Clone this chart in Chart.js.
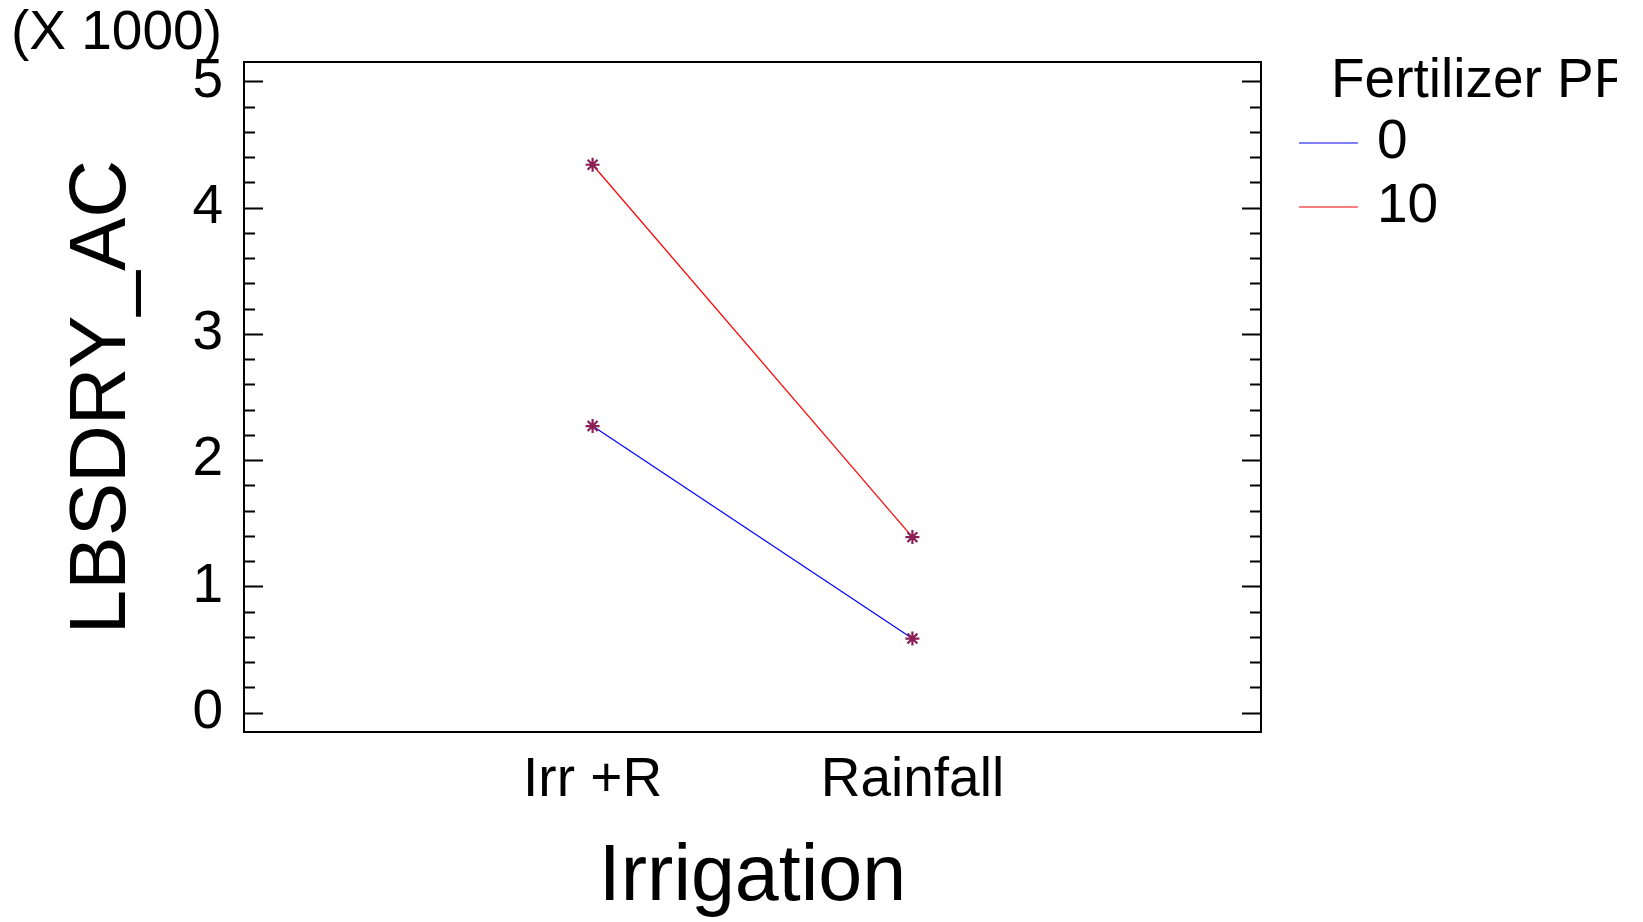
<!DOCTYPE html>
<html>
<head>
<meta charset="utf-8">
<script src="https://cdn.jsdelivr.net/npm/chart.js@4"></script>
<style>
  html, body { margin: 0; padding: 0; background: #fff; overflow: hidden; }
  #wrap { width: 1643px; height: 922px; }
</style>
</head>
<body>
<div id="wrap"><canvas id="c" width="1643" height="922"></canvas></div>
<script>
// data (values are in thousands)
var irrigation = ['Irr +R', 'Rainfall'];
var irrigationPos = [1, 2];
var fert0 = [2.27, 0.586];
var fert10 = [4.34, 1.39];
var fertLevels = ['0', '10'];
var yTicks = [0, 1, 2, 3, 4, 5];

var FONT = "'Liberation Sans', Arial, sans-serif";
Chart.defaults.font.family = FONT;
Chart.defaults.color = '#000';

var toPoints = function(vals){
	return vals.map(function(v, i){ return {x: irrigationPos[i], y: v}; });
};

// box, inner ticks, multiplier note and legend
var decor = {
	id: 'decor',
	afterDraw: function(chart){
		var ctx = chart.ctx, a = chart.chartArea, ys = chart.scales.y;
		ctx.save();
		ctx.strokeStyle = '#000';
		ctx.lineWidth = 2;
		ctx.strokeRect(a.left, a.top, a.right - a.left, a.bottom - a.top);

		// ticks pointing inwards, left and right
		ctx.beginPath();
		for (var v = 0; v <= 25; v++) {
			var val = v / 5;
			var y = Math.round(ys.getPixelForValue(val)) + 0.5;
			var len = (v % 5 == 0) ? 19 : 11;
			ctx.moveTo(a.left, y); ctx.lineTo(a.left + len, y);
			ctx.moveTo(a.right, y); ctx.lineTo(a.right - len, y);
		}
		ctx.stroke();

		ctx.fillStyle = '#000';
		ctx.textAlign = 'left';
		ctx.textBaseline = 'alphabetic';
		ctx.font = '55px ' + FONT;
		ctx.fillText('(X 1000)', 11, 49);

		// legend
		ctx.save();
		ctx.beginPath();
		ctx.rect(0, 0, 1617, 922);
		ctx.clip();
		ctx.font = '55px ' + FONT;
		ctx.fillText('Fertilizer PPA', 1331, 97);
		ctx.restore();
		ctx.font = '55px ' + FONT;
		ctx.textBaseline = 'middle';
		chart.data.datasets.forEach(function(ds, i){
			var ly = 143 + i * 64;
			ctx.strokeStyle = ds.borderColor;
			ctx.lineWidth = 1.2;
			ctx.beginPath();
			ctx.moveTo(1299, ly); ctx.lineTo(1358, ly);
			ctx.stroke();
			ctx.fillText(ds.label, 1377, ly);
		});
		ctx.restore();
	}
};

new Chart(document.getElementById('c'), {
	type: 'line',
	data: {
		datasets: [
			{label: fertLevels[0], data: toPoints(fert0), borderColor: '#0000ff', borderWidth: 1.2,
			 pointStyle: 'star', pointRadius: 7, pointBorderColor: '#8b1f55', pointBackgroundColor: '#8b1f55', pointBorderWidth: 2.2},
			{label: fertLevels[1], data: toPoints(fert10), borderColor: '#ff0000', borderWidth: 1.2,
			 pointStyle: 'star', pointRadius: 7, pointBorderColor: '#8b1f55', pointBackgroundColor: '#8b1f55', pointBorderWidth: 2.2}
		]
	},
	options: {
		responsive: false,
		animation: false,
		devicePixelRatio: 1,
		layout: { padding: {top: 62, right: 382, bottom: 0, left: 0} },
		plugins: { legend: {display: false}, tooltip: {enabled: false} },
		scales: {
			x: {
				type: 'linear',
				min: -0.09, max: 3.09,
				grid: {display: false, drawTicks: false},
				border: {display: false},
				afterBuildTicks: function(s){ s.ticks = irrigationPos.map(function(p){ return {value: p}; }); },
				afterFit: function(s){ s.height = 190; },
				ticks: {
					font: {size: 55},
					padding: 16,
					maxRotation: 0,
					autoSkip: false,
					callback: function(v){ var i = irrigationPos.indexOf(v); return i < 0 ? '' : irrigation[i]; }
				},
				title: {display: true, text: 'Irrigation', font: {size: 79, lineHeight: 1}, padding: {top: 0, bottom: 4}}
			},
			y: {
				min: -0.154, max: 5.154,
				grid: {display: false, drawTicks: false},
				border: {display: false},
				afterBuildTicks: function(s){ s.ticks = yTicks.map(function(t){ return {value: t}; }); },
				afterFit: function(s){ s.width = 244; },
				ticks: { font: {size: 55}, padding: 21 },
				title: {display: true, text: 'LBSDRY_AC', font: {size: 80, lineHeight: 1}, padding: {top: 63, bottom: 0}}
			}
		}
	},
	plugins: [decor]
});
</script>
</body>
</html>
